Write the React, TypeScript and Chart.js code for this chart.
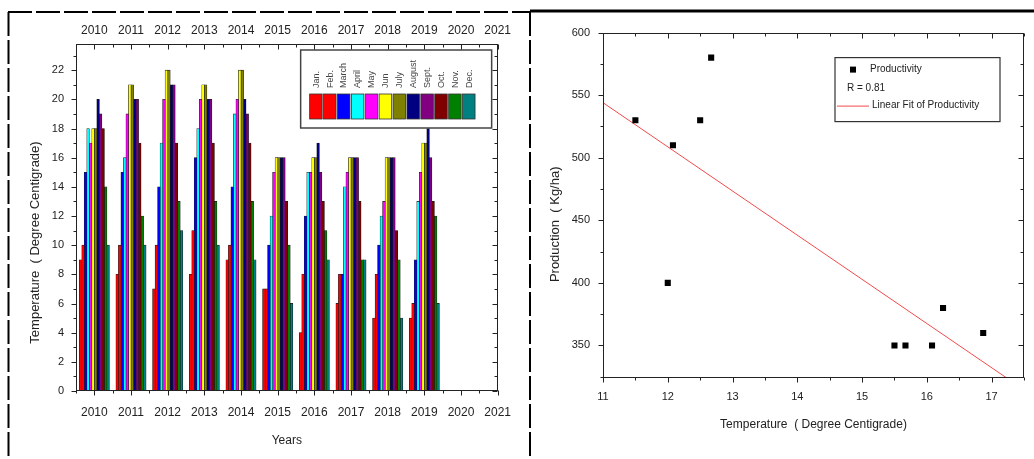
import React, { useEffect, useRef } from 'react';
import { Chart, registerables } from 'chart.js';

Chart.register(...registerables);

const FONT = "'Liberation Sans', Arial, sans-serif";
const TEXT = '#222';

// ---------- Left chart data ----------
const yearLabels = [2010, 2011, 2012, 2013, 2014, 2015, 2016, 2017, 2018, 2019, 2020, 2021];
const dataYears = [2010, 2011, 2012, 2013, 2014, 2015, 2016, 2017, 2018, 2019];
const monthNames = ['Jan.', 'Feb.', 'March', 'April', 'May', 'Jun', 'July', 'August', 'Sept.', 'Oct.', 'Nov.', 'Dec.'];
const monthColors = ['#ff0000', '#ff0000', '#0000ff', '#00ffff', '#ff00ff', '#ffff00', '#808000', '#000080', '#800080', '#800000', '#008000', '#008080'];

const jan = [9, 8, 7, 8, 9, 7, 4, 6, 5, 5];
const feb = [10, 10, 10, 11, 10, 7, 8, 8, 8, 6];
const mar = [15, 15, 14, 16, 14, 10, 12, 8, 10, 9];
const apr = [18, 16, 17, 18, 19, 12, 15, 14, 12, 13];
const may = [17, 19, 20, 20, 20, 15, 15, 15, 13, 15];
const jun = [18, 21, 22, 21, 22, 16, 16, 16, 16, 17];
const jul = [18, 21, 22, 21, 22, 16, 16, 16, 16, 17];
const aug = [20, 20, 21, 20, 20, 16, 17, 16, 16, 18];
const sep = [19, 20, 21, 20, 19, 16, 15, 16, 16, 16];
const oct = [18, 17, 17, 17, 17, 13, 13, 13, 11, 13];
const nov = [14, 12, 13, 13, 13, 10, 11, 9, 9, 12];
const dec = [10, 10, 11, 10, 9, 6, 9, 9, 5, 6];
const monthValues = [jan, feb, mar, apr, may, jun, jul, aug, sep, oct, nov, dec];

// ---------- Right chart data ----------
const tempX = [11.5, 12.0, 12.08, 12.5, 12.67, 15.5, 15.67, 16.08, 16.25, 16.87];
const prodY = [530, 400, 510, 530, 580, 350, 350, 350, 380, 360];
const fitX = [11, 17.5];
const fitY = [544, 314.6];
const rText = 'R = 0.81';

// ---------- helpers ----------
function frameTicks(minorX: number, minorY: number) {
  return {
    id: 'frameTicks',
    afterDraw(chart: any) {
      const { ctx } = chart;
      const a = chart.chartArea;
      const L = Math.round(a.left) + 0.5, R = Math.round(a.right) - 0.5;
      const T = Math.round(a.top) + 0.5, B = Math.round(a.bottom) - 0.5;
      const xs = chart.scales.x, ys = chart.scales.y;
      ctx.save();
      ctx.strokeStyle = '#222';
      ctx.lineWidth = 1;
      ctx.strokeRect(L, T, R - L, B - T);
      const line = (x1: number, y1: number, x2: number, y2: number) => {
        ctx.beginPath(); ctx.moveTo(x1, y1); ctx.lineTo(x2, y2); ctx.stroke();
      };
      const majX = xs.ticks.map((t: any) => t.value);
      const majY = ys.ticks.map((t: any) => t.value);
      const isMaj = (arr: number[], v: number) => arr.some((m) => Math.abs(m - v) < 1e-6);
      const MJ = 5, MN = 3;
      majX.forEach((v: number) => {
        const p = Math.round(xs.getPixelForValue(v)) + 0.5;
        line(p, B, p, B + MJ); line(p, T, p, T + MJ);
      });
      for (let v = Math.ceil(xs.min / minorX - 1e-9) * minorX; v <= xs.max + 1e-9; v += minorX) {
        if (isMaj(majX, v)) continue;
        const p = Math.round(xs.getPixelForValue(v)) + 0.5;
        line(p, B, p, B + MN); line(p, T, p, T + MN);
      }
      majY.forEach((v: number) => {
        const p = Math.round(ys.getPixelForValue(v)) + 0.5;
        line(L - MJ, p, L, p); line(R - MJ, p, R, p);
      });
      for (let v = Math.ceil(ys.min / minorY - 1e-9) * minorY; v <= ys.max + 1e-9; v += minorY) {
        if (isMaj(majY, v)) continue;
        const p = Math.round(ys.getPixelForValue(v)) + 0.5;
        line(L - MN, p, L, p); line(R - MN, p, R, p);
      }
      ctx.restore();
    },
  };
}

function yTitle(text: string, dx: number, dy: number, size: number) {
  return {
    id: 'yTitle',
    afterDraw(chart: any) {
      const { ctx } = chart;
      const a = chart.chartArea;
      ctx.save();
      ctx.translate(a.left + dx, (a.top + a.bottom) / 2 + dy);
      ctx.rotate(-Math.PI / 2);
      ctx.font = `${size}px ${FONT}`;
      ctx.fillStyle = TEXT;
      ctx.textAlign = 'center';
      ctx.textBaseline = 'middle';
      ctx.fillText(text, 0, 0);
      ctx.restore();
    },
  };
}

const monthLegend = {
  id: 'monthLegend',
  afterDatasetsDraw(chart: any) {
    const { ctx } = chart;
    const a = chart.chartArea;
    const bw = 191, bh = 78;
    const bx = a.right - 6 - bw, by = a.top + 6;
    ctx.save();
    ctx.fillStyle = '#fff';
    ctx.fillRect(bx, by, bw, bh);
    ctx.strokeStyle = '#444';
    ctx.lineWidth = 1.5;
    ctx.strokeRect(bx, by, bw, bh);
    ctx.font = `9px ${FONT}`;
    monthNames.forEach((name, i) => {
      const sx = bx + 9 + i * 13.9;
      ctx.fillStyle = monthColors[i];
      ctx.fillRect(sx, by + 44, 12.5, 25);
      ctx.strokeStyle = '#333';
      ctx.lineWidth = 0.8;
      ctx.strokeRect(sx, by + 44, 12.5, 25);
      ctx.save();
      ctx.translate(sx + 6.5, by + 38);
      ctx.rotate(-Math.PI / 2);
      ctx.fillStyle = '#444';
      ctx.textAlign = 'left';
      ctx.textBaseline = 'middle';
      ctx.fillText(name, 0, 0);
      ctx.restore();
    });
    ctx.restore();
  },
};

const fitLegend = {
  id: 'fitLegend',
  afterDraw(chart: any) {
    const { ctx } = chart;
    const a = chart.chartArea;
    const bw = 165, bh = 64;
    const bx = a.right - 24 - bw, by = a.top + 25;
    const ds = chart.data.datasets;
    ctx.save();
    ctx.fillStyle = '#fff';
    ctx.fillRect(bx, by, bw, bh);
    ctx.strokeStyle = '#333';
    ctx.lineWidth = 1.2;
    ctx.strokeRect(bx, by, bw, bh);
    ctx.fillStyle = '#000';
    ctx.fillRect(bx + 15, by + 9, 6, 6);
    ctx.font = `10px ${FONT}`;
    ctx.fillStyle = TEXT;
    ctx.textAlign = 'left';
    ctx.textBaseline = 'middle';
    ctx.fillText(ds[0].label, bx + 35, by + 12);
    ctx.fillText(rText, bx + 12, by + 31);
    ctx.strokeStyle = ds[1].borderColor;
    ctx.lineWidth = 1;
    ctx.beginPath(); ctx.moveTo(bx + 2, by + 48.5); ctx.lineTo(bx + 34, by + 48.5); ctx.stroke();
    ctx.fillText(ds[1].label, bx + 37, by + 48);
    ctx.restore();
  },
};

const tickFont = (size: number) => ({ family: FONT, size });

function makeBarChart(canvas: HTMLCanvasElement) {
  const datasets = monthNames.map((name, i) => ({
    label: name,
    data: dataYears.map((yr, j) => ({ x: yr, y: monthValues[i][j] })),
    backgroundColor: monthColors[i],
    borderColor: '#1a1a1a',
    borderWidth: { left: 0.6, right: 0.6, top: 0.6, bottom: 0 },
    inflateAmount: 0.4,
    categoryPercentage: 0.82,
    barPercentage: 1,
  }));
  const xCommon = {
    type: 'linear',
    min: 2009.5,
    max: 2021,
    offset: false,
    grid: { display: false, drawTicks: false },
    border: { display: false },
    afterBuildTicks: (s: any) => {
      s.ticks = s.ticks.filter((t: any) => yearLabels.includes(t.value));
    },
  };
  return new Chart(canvas, {
    type: 'bar',
    data: { datasets } as any,
    options: {
      animation: false,
      responsive: false,
      layout: { padding: { right: 25, left: 0, top: 0, bottom: 0 } },
      plugins: { legend: { display: false }, tooltip: { enabled: false } },
      scales: {
        x: {
          ...xCommon,
          position: 'bottom',
          ticks: { stepSize: 1, includeBounds: false, padding: 14, autoSkip: false, maxRotation: 0, font: tickFont(12), color: TEXT, callback: (v: any) => String(v) },
          afterFit: (s: any) => { s.height = 65; },
          title: { display: true, text: 'Years', font: tickFont(12), color: TEXT, padding: { top: 0, bottom: 8 } },
        },
        xTop: {
          ...xCommon,
          position: 'top',
          ticks: { stepSize: 1, includeBounds: false, padding: 6, autoSkip: false, maxRotation: 0, font: tickFont(12), color: TEXT, callback: (v: any) => String(v) },
          afterFit: (s: any) => { s.height = 30; },
        },
        y: {
          type: 'linear',
          position: 'left',
          min: 0,
          max: 23.8,
          grid: { display: false, drawTicks: false },
          border: { display: false },
          ticks: { stepSize: 2, includeBounds: false, padding: 12, font: tickFont(11), color: TEXT },
          afterFit: (s: any) => { s.width = 66; },
        },
      },
    } as any,
    plugins: [frameTicks(0.5, 1), monthLegend, yTitle('Temperature  ( Degree Centigrade)', -41, 25, 13)],
  });
}

function makeScatterChart(canvas: HTMLCanvasElement) {
  return new Chart(canvas, {
    type: 'scatter',
    data: {
      datasets: [
        {
          label: 'Productivity',
          data: tempX.map((x, i) => ({ x, y: prodY[i] })),
          pointStyle: 'rect',
          pointRadius: 4.3,
          backgroundColor: '#000',
          borderColor: '#000',
          borderWidth: 0,
          showLine: false,
        },
        {
          label: 'Linear Fit of Productivity',
          type: 'line',
          data: fitX.map((x, i) => ({ x, y: fitY[i] })),
          borderColor: '#f24b4b',
          borderWidth: 1,
          pointRadius: 0,
          showLine: true,
          fill: false,
        },
      ],
    } as any,
    options: {
      animation: false,
      responsive: false,
      layout: { padding: { right: 10, top: 10, left: 0, bottom: 0 } },
      plugins: { legend: { display: false }, tooltip: { enabled: false } },
      scales: {
        x: {
          type: 'linear',
          position: 'bottom',
          min: 11,
          max: 17.5,
          grid: { display: false, drawTicks: false },
          border: { display: false },
          ticks: { stepSize: 1, includeBounds: false, padding: 12, font: tickFont(11), color: TEXT },
          afterFit: (s: any) => { s.height = 81; },
          title: { display: true, text: 'Temperature  ( Degree Centigrade)', font: tickFont(12), color: TEXT, padding: { top: 0, bottom: 27 } },
        },
        y: {
          type: 'linear',
          position: 'left',
          min: 324,
          max: 600,
          grid: { display: false, drawTicks: false },
          border: { display: false },
          ticks: { stepSize: 50, includeBounds: false, padding: 13, font: tickFont(11), color: TEXT },
          afterFit: (s: any) => { s.width = 68; },
        },
      },
    } as any,
    plugins: [frameTicks(0.5, 25), fitLegend, yTitle('Production  ( Kg/ha)', -48, 19, 13)],
  });
}

function ChartCanvas(props: { left: number; top: number; width: number; height: number; make: (c: HTMLCanvasElement) => Chart }) {
  const ref = useRef<HTMLCanvasElement>(null);
  useEffect(() => {
    const chart = props.make(ref.current as HTMLCanvasElement);
    return () => chart.destroy();
  }, []);
  return (
    <canvas
      ref={ref}
      width={props.width}
      height={props.height}
      style={{ position: 'absolute', left: props.left, top: props.top, width: props.width, height: props.height }}
    />
  );
}

export default function App() {
  return (
    <div style={{ position: 'absolute', left: 0, top: 0, width: 1034, height: 459, background: '#fff', overflow: 'hidden' }}>
      <svg width={1034} height={459} style={{ position: 'absolute', left: 0, top: 0, pointerEvents: 'none' }}>
        <line x1={8} y1={12} x2={530} y2={12} stroke="#000" strokeWidth={2} strokeDasharray="24 4" />
        <line x1={8.5} y1={12} x2={8.5} y2={459} stroke="#000" strokeWidth={2} strokeDasharray="24 4" />
        <line x1={530} y1={12} x2={530} y2={459} stroke="#000" strokeWidth={2} strokeDasharray="24 4" />
        <line x1={530} y1={11} x2={1034} y2={11} stroke="#000" strokeWidth={3} />
      </svg>
      <ChartCanvas left={10} top={14} width={515} height={442} make={makeBarChart} />
      <ChartCanvas left={535} top={13} width={499} height={446} make={makeScatterChart} />
    </div>
  );
}
